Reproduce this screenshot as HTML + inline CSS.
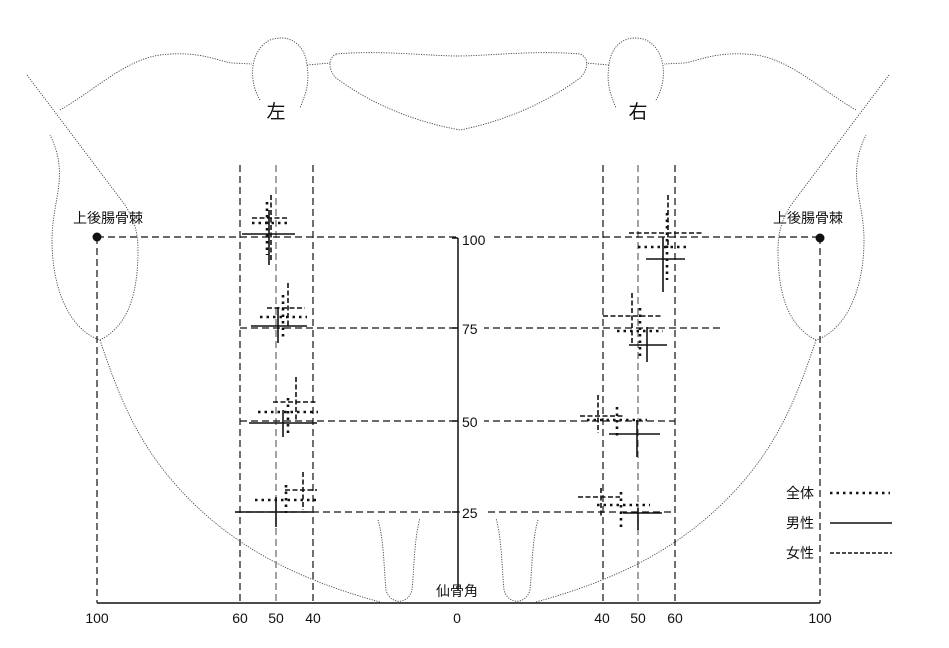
<!DOCTYPE html>
<html><head><meta charset="utf-8"><style>
html,body{margin:0;padding:0;background:#fff;width:949px;height:648px;overflow:hidden}
svg{display:block}
text{font-family:"Liberation Sans","Noto Sans CJK JP",sans-serif;fill:#111}
</style></head><body>
<svg width="949" height="648" viewBox="0 0 949 648">
<defs>
<g id="half" fill="none" stroke="#444" stroke-width="0.9" stroke-dasharray="1.2 1.3">
<path d="M27,75 L125,205 C133,218 138,230 138,250 C138,290 130,325 100,340 C70,330 52,290 52,240 C52,200 70,175 50,135"/>
<path d="M60,110 C95,90 125,60 160,55 C200,50 220,62 232,63 L252,64"/>
<path d="M260,100 C248,80 250,50 270,40 C290,33 305,45 307,65 C310,85 305,95 300,108"/>
<path d="M307,65 L330,63"/>
<path d="M100,340 C120,400 140,450 190,500 C240,550 300,580 380,602"/>
<path d="M378,520 C384,540 384,570 386,590 C390,605 408,605 412,590 C414,570 414,540 420,518"/>
</g>
</defs>
<use href="#half"/>
<use href="#half" transform="translate(916,0) scale(-1,1)"/>
<path d="M336,54 C380,50 430,56 458,56 C486,56 536,50 580,54 C590,58 588,70 580,78 C550,100 510,120 460,130 C406,120 366,100 336,78 C328,70 328,58 336,54 Z" fill="none" stroke="#444" stroke-width="0.9" stroke-dasharray="1.2 1.3"/>

<g stroke="#111" stroke-width="1.2" fill="none" stroke-dasharray="7 4">
<line x1="240" y1="165" x2="240" y2="603"/><line x1="276" y1="165" x2="276" y2="603" stroke="#666"/><line x1="313" y1="165" x2="313" y2="603"/>
<line x1="603" y1="165" x2="603" y2="603"/><line x1="638" y1="165" x2="638" y2="603" stroke="#666"/><line x1="675" y1="165" x2="675" y2="603"/>
<line x1="97" y1="237" x2="97" y2="603"/><line x1="820" y1="237" x2="820" y2="603"/>
<line x1="97" y1="237" x2="820" y2="237"/>
<line x1="240" y1="328" x2="722" y2="328"/>
<line x1="240" y1="421" x2="675" y2="421"/>
<line x1="235" y1="512" x2="675" y2="512"/>
</g>
<g fill="#fff">
<rect x="460" y="230" width="34" height="16"/>
<rect x="460" y="320" width="24" height="16"/>
<rect x="460" y="413" width="24" height="16"/>
<rect x="460" y="504" width="24" height="16"/>
</g>
<line x1="458" y1="238" x2="458" y2="590" stroke="#111" stroke-width="1.5"/>
<line x1="97" y1="603" x2="820" y2="603" stroke="#111" stroke-width="1.5"/>
<circle cx="97" cy="237" r="4.5" fill="#111"/><circle cx="820" cy="238" r="4.5" fill="#111"/>

<g fill="none" stroke="#111">
<g stroke-width="2.6" stroke-dasharray="2.5 4">
<line x1="252" y1="223" x2="290" y2="223"/><line x1="267" y1="202" x2="267" y2="255"/>
<line x1="260" y1="317" x2="307" y2="317"/><line x1="283" y1="295" x2="283" y2="340"/>
<line x1="258" y1="412" x2="318" y2="412"/><line x1="288" y1="398" x2="288" y2="435"/>
<line x1="255" y1="500" x2="317" y2="500"/><line x1="286" y1="485" x2="286" y2="513"/>
<line x1="638" y1="247" x2="690" y2="247"/><line x1="667" y1="213" x2="667" y2="280"/>
<line x1="617" y1="331" x2="663" y2="331"/><line x1="640" y1="308" x2="640" y2="360"/>
<line x1="587" y1="420" x2="647" y2="420"/><line x1="617" y1="407" x2="617" y2="437"/>
<line x1="597" y1="505" x2="650" y2="505"/><line x1="621" y1="492" x2="621" y2="530"/>
</g>
<g stroke-width="1.6" stroke-dasharray="5 2.5">
<line x1="252" y1="218" x2="288" y2="218"/><line x1="271" y1="195" x2="271" y2="260"/>
<line x1="267" y1="308" x2="305" y2="308"/><line x1="288" y1="283" x2="288" y2="327"/>
<line x1="273" y1="402" x2="317" y2="402"/><line x1="296" y1="377" x2="296" y2="420"/>
<line x1="285" y1="490" x2="317" y2="490"/><line x1="303" y1="472" x2="303" y2="510"/>
<line x1="629" y1="233" x2="703" y2="233"/><line x1="668" y1="195" x2="668" y2="247"/>
<line x1="603" y1="316" x2="663" y2="316"/><line x1="632" y1="293" x2="632" y2="343"/>
<line x1="580" y1="416" x2="625" y2="416"/><line x1="598" y1="395" x2="598" y2="433"/>
<line x1="578" y1="497" x2="620" y2="497"/><line x1="601" y1="488" x2="601" y2="517"/>
</g>
<g stroke-width="1.6">
<line x1="242" y1="234" x2="295" y2="234"/><line x1="269" y1="210" x2="269" y2="265"/>
<line x1="251" y1="326" x2="307" y2="326"/><line x1="278" y1="307" x2="278" y2="343"/>
<line x1="249" y1="423" x2="317" y2="423"/><line x1="283" y1="410" x2="283" y2="437"/>
<line x1="235" y1="512" x2="312" y2="512"/><line x1="276" y1="497" x2="276" y2="527"/>
<line x1="646" y1="259" x2="685" y2="259"/><line x1="663" y1="237" x2="663" y2="292"/>
<line x1="629" y1="345" x2="667" y2="345"/><line x1="647" y1="327" x2="647" y2="362"/>
<line x1="609" y1="434" x2="660" y2="434"/><line x1="637" y1="420" x2="637" y2="457"/>
<line x1="623" y1="513" x2="662" y2="513"/><line x1="638" y1="508" x2="638" y2="530"/>
</g>
</g>
<g stroke="#111" stroke-width="1.5">
<line x1="452" y1="238" x2="458" y2="238"/><line x1="452" y1="328" x2="458" y2="328"/>
<line x1="452" y1="421" x2="458" y2="421"/><line x1="452" y1="512" x2="458" y2="512"/>
</g>

<g font-size="14">
<text x="276" y="118" font-size="19" text-anchor="middle">左</text>
<text x="638" y="118" font-size="19" text-anchor="middle">右</text>
<text x="108" y="223" text-anchor="middle">上後腸骨棘</text>
<text x="808" y="223" text-anchor="middle">上後腸骨棘</text>
<text x="462" y="245">100</text>
<text x="462" y="334">75</text>
<text x="462" y="427">50</text>
<text x="462" y="518">25</text>
<text x="457" y="596" text-anchor="middle">仙骨角</text>
<text x="97" y="623" text-anchor="middle">100</text>
<text x="240" y="623" text-anchor="middle">60</text>
<text x="276" y="623" text-anchor="middle">50</text>
<text x="313" y="623" text-anchor="middle">40</text>
<text x="457" y="623" text-anchor="middle">0</text>
<text x="602" y="623" text-anchor="middle">40</text>
<text x="638" y="623" text-anchor="middle">50</text>
<text x="675" y="623" text-anchor="middle">60</text>
<text x="820" y="623" text-anchor="middle">100</text>
<text x="786" y="498">全体</text>
<text x="786" y="528">男性</text>
<text x="786" y="558">女性</text>
</g>
<line x1="830" y1="493" x2="890" y2="493" stroke="#111" stroke-width="2.6" stroke-dasharray="2.5 4"/>
<line x1="830" y1="523" x2="892" y2="523" stroke="#111" stroke-width="1.4"/>
<line x1="830" y1="553" x2="892" y2="553" stroke="#111" stroke-width="1.4" stroke-dasharray="4 2"/>
</svg>
</body></html>
